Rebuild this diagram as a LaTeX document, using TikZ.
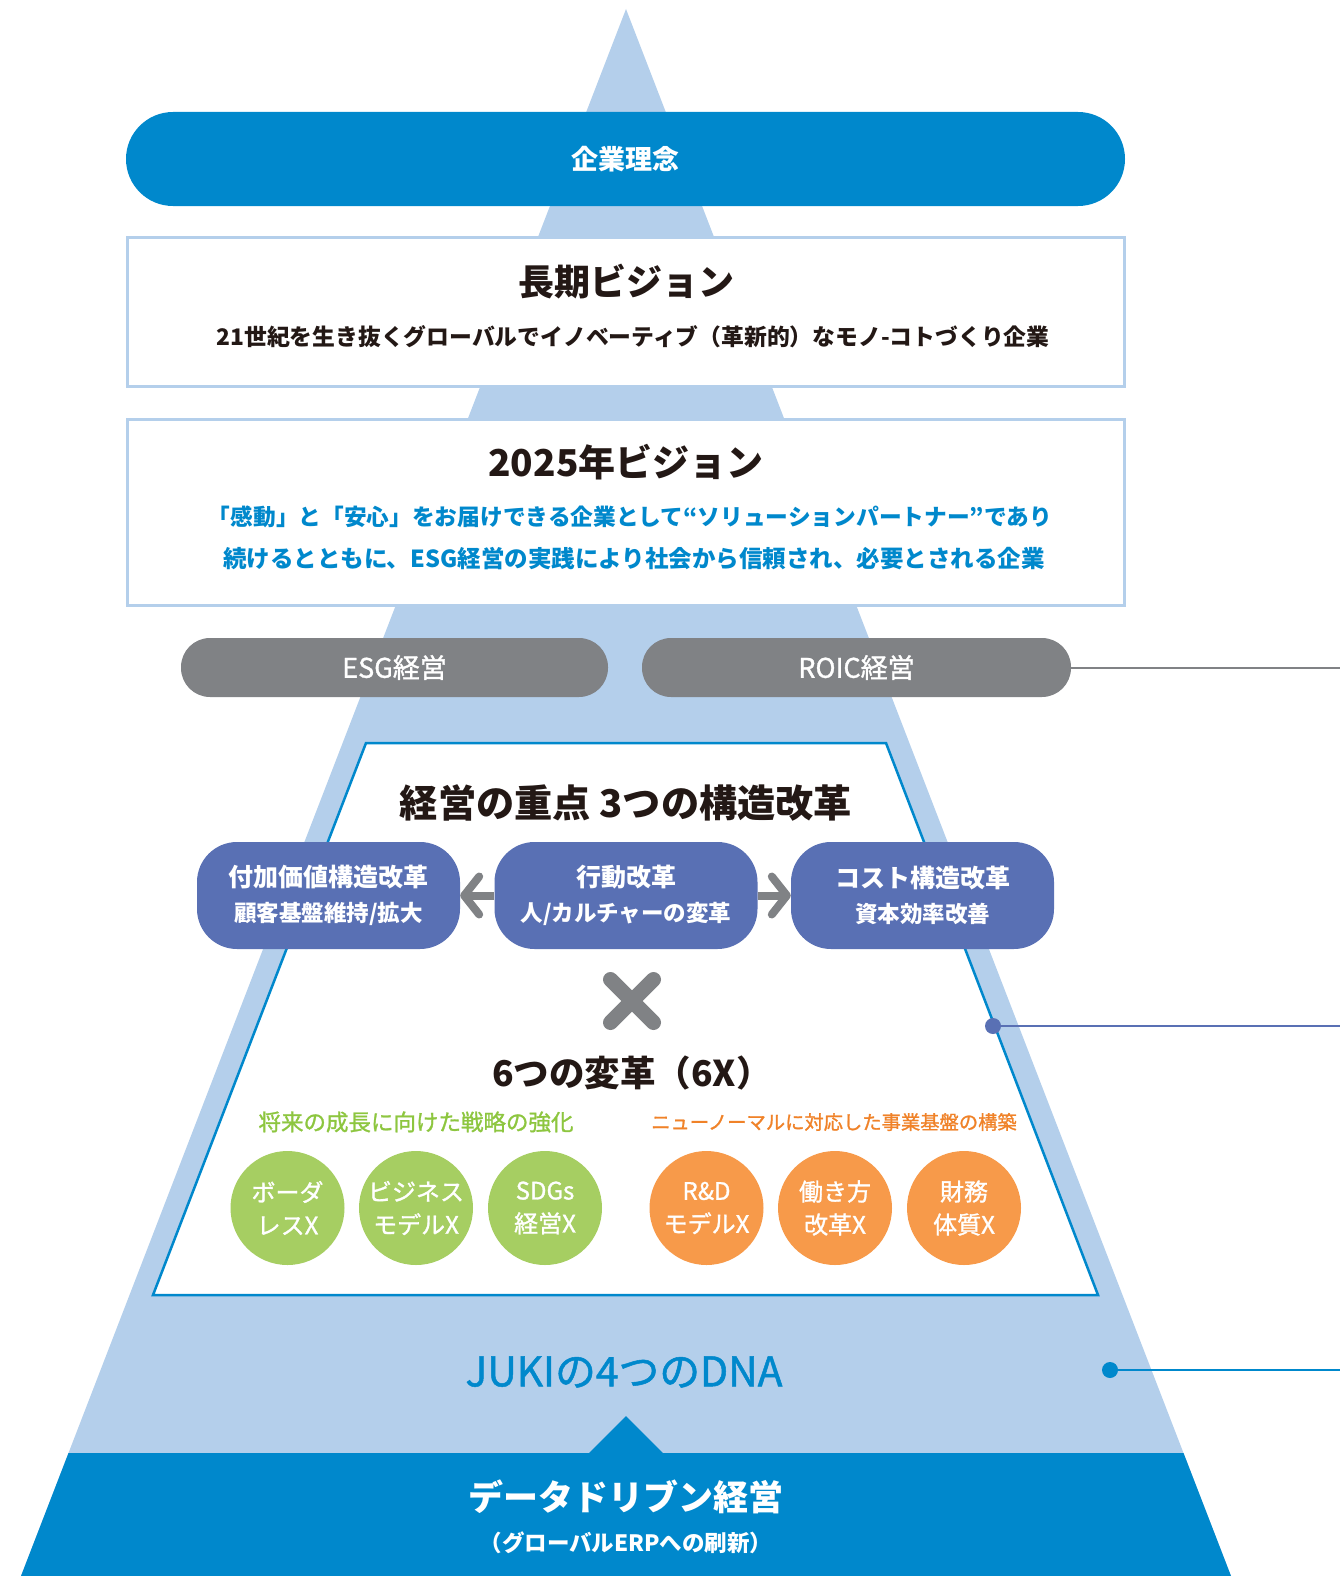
\documentclass[tikz,border=0pt]{standalone}
\usepackage{fontspec}
\setmainfont{Noto Sans CJK JP}
\newfontfamily\jpmed{Noto Sans CJK JP}[FakeBold=1.2]
\usetikzlibrary{arrows.meta}
\definecolor{lblue}{RGB}{180,207,235}
\definecolor{dblue}{RGB}{0,136,204}
\definecolor{pgray}{RGB}{128,130,133}
\definecolor{pbox}{RGB}{89,112,180}
\definecolor{gcirc}{RGB}{166,206,98}
\definecolor{gtext}{RGB}{141,198,63}
\definecolor{ocirc}{RGB}{247,154,74}
\definecolor{otext}{RGB}{240,130,40}
\definecolor{ink}{RGB}{35,24,21}
\newcommand\fsz[1]{\fontsize{#1pt}{#1pt}\selectfont}
\tikzset{
  pill/.style={rectangle, inner sep=0pt, text=white},
  vbox/.style={rectangle, draw=lblue, line width=3pt, fill=white, inner sep=0pt},
  title/.style={text=ink, font=\bfseries, inner sep=0pt},
  kbox/.style={rectangle, fill=pbox, rounded corners=40pt, minimum width=263pt, minimum height=107pt, inner sep=0pt, text=white, align=center, font=\bfseries},
  garrow/.style={pgray, line width=8pt, -{Straight Barb[length=15pt, width=38pt, round]}},
  gx/.style={circle, fill=gcirc, minimum size=114pt, inner sep=0pt, text=white, align=center, font=\jpmed\fsz{24}},
  ox/.style={circle, fill=ocirc, minimum size=114pt, inner sep=0pt, text=white, align=center, font=\jpmed\fsz{24}},
  dot/.style={circle, minimum size=16pt, inner sep=0pt},
}
\begin{document}
\begin{tikzpicture}[x=1pt,y=-1pt]
\useasboundingbox (0,0) rectangle (1340,1576);
% pyramid
\fill[lblue] (626,9) -- (1231,1576) -- (21,1576) -- cycle;
\fill[dblue] (68.5,1453) -- (1183.5,1453) -- (1231,1576) -- (21,1576) -- cycle;
\fill[dblue] (588,1454) -- (626,1416) -- (664,1454) -- cycle;

% 企業理念
\node[pill, fill=dblue, rounded corners=47pt, minimum width=999pt, minimum height=94pt, font=\bfseries\fsz{27}] (rinen) at (625.5,159) {企業理念};

% 長期ビジョン
\node[vbox, minimum width=997pt, minimum height=149pt] (choki) at (626,312) {};
\node[title, font=\bfseries\fsz{36}] (chokit) at (626,282) {長期ビジョン};
\node[title, font=\bfseries\fsz{22.8}] (chokis) at (633,337) {21世紀を生き抜くグローバルでイノベーティブ（革新的）なモノ-コトづくり企業};

% 2025年ビジョン
\node[vbox, minimum width=997pt, minimum height=186pt] (v25) at (626,512.5) {};
\node[title, font=\bfseries\fsz{37}] (v25t) at (626,462) {2025年ビジョン};
\node[title, text=dblue, font=\bfseries\fsz{22.7}] (v25a) at (630,517) {「感動」と「安心」をお届けできる企業として“ソリューションパートナー”であり};
\node[title, text=dblue, font=\bfseries\fsz{23.5}] (v25b) at (634,559) {続けるとともに、ESG経営の実践により社会から信頼され、必要とされる企業};

% ESG / ROIC
\node[pill, fill=pgray, rounded corners=29pt, minimum width=427pt, minimum height=59pt, font=\jpmed\fsz{27}] (esg) at (394.5,667.5) {ESG経営};
\node[pill, fill=pgray, rounded corners=29pt, minimum width=429pt, minimum height=59pt, font=\jpmed\fsz{27}] (roic) at (856.5,667.5) {ROIC経営};
\coordinate (e1) at (1340,667.5);
\draw[pgray, line width=2pt] (roic.east) -- (e1);

% inner trapezoid
\draw[dblue, line width=2.5pt, fill=white] (366,743) -- (886,743) -- (1098,1295) -- (153,1295) -- cycle;
\node[title, font=\bfseries\fsz{38.2}] (jt) at (626,803) {経営の重点 3つの構造改革};

\node[kbox] (kl) at (328.5,895.5) {\fsz{25}付加価値構造改革\\[12pt]\fsz{22.5}顧客基盤維持/拡大};
\node[kbox] (km) at (626,895.5) {\fsz{25}行動改革\\[12pt]\fsz{22.5}人/カルチャーの変革};
\node[kbox] (kr) at (922.5,895.5) {\fsz{25}コスト構造改革\\[12pt]\fsz{22.5}資本効率改善};
\draw[garrow] (km.west) -- (kl.east);
\draw[garrow] (km.east) -- (kr.west);

% cross
\draw[pgray, line width=15pt, line cap=round] (610.5,979.5) -- (653.5,1022.5) (610.5,1022.5) -- (653.5,979.5);

\node[title, font=\bfseries\fsz{35.5}] (sx) at (632,1073) {6つの変革（6X）};
\node[title, text=gtext, font=\jpmed\fsz{22.5}] (gsub) at (416,1122) {将来の成長に向けた戦略の強化};
\node[title, text=otext, font=\jpmed\fsz{19.3}] (osub) at (834,1122) {ニューノーマルに対応した事業基盤の構築};

\node[gx] (c1) at (287.5,1208) {ボーダ\\[9pt]レスX};
\node[gx] (c2) at (416,1208) {ビジネス\\[9pt]モデルX};
\node[gx] (c3) at (545,1208) {SDGs\\[9pt]経営X};
\node[ox] (c4) at (706.5,1208) {R\&D\\[9pt]モデルX};
\node[ox] (c5) at (835,1208) {働き方\\[9pt]改革X};
\node[ox] (c6) at (964,1208) {財務\\[9pt]体質X};

\node[dot, fill=pbox] (d2) at (993,1026) {};
\coordinate (e2) at (1340,1026);
\draw[pbox, line width=2pt] (d2) -- (e2);

% DNA
\node[title, text=dblue, font=\jpmed\fsz{40.8}] (dna) at (624,1372) {JUKIの4つのDNA};
\node[dot, fill=dblue] (d3) at (1110,1370) {};
\coordinate (e3) at (1340,1370);
\draw[dblue, line width=2.5pt] (d3) -- (e3);

% data driven
\node[title, text=white, font=\bfseries\fsz{35}] (dd) at (626,1497) {データドリブン経営};
\node[title, text=white, font=\bfseries\fsz{22.5}] (erp) at (626,1543) {（グローバルERPへの刷新）};
\end{tikzpicture}
\end{document}
